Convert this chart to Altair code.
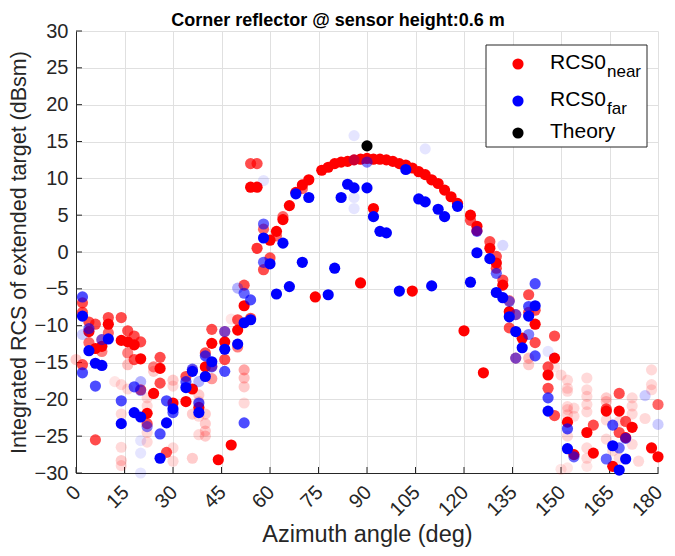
import altair as alt
import pandas as pd

# (azimuth deg, RCS dBsm, marker alpha)
near_points = [
    (0, -14.6, 0.2),
    (2, -6.9, 0.7), (2, -8.2, 0.7), (2, -15.3, 0.7),
    (4, -9.5, 0.7), (4, -10.8, 1), (4, -12.3, 0.6),
    (6, -9.8, 0.7), (6, -13.1, 1), (6, -25.5, 0.7),
    (8, -12.8, 1), (8, -13.5, 0.5), (8, -11.9, 0.4),
    (10, -8.9, 0.7), (10, -9.8, 1), (10, -11.0, 0.6),
    (12, -17.6, 0.1),
    (14, -8.9, 0.7), (14, -12.0, 1), (14, -18.0, 0.15), (14, -22.0, 0.15), (14, -26.5, 0.15), (14, -28.3, 0.2), (14, -29.0, 0.15),
    (16, -10.7, 0.7), (16, -12.2, 1), (16, -13.7, 0.5), (16, -15.3, 0.25), (16, -18.6, 0.15),
    (18, -11.4, 0.7), (18, -12.6, 1), (18, -14.6, 0.7),
    (20, -12.2, 0.7), (20, -14.5, 1), (20, -18.7, 0.7),
    (22, -21.9, 1), (22, -23.3, 0.7), (22, -19.8, 0.15), (22, -20.9, 0.15), (22, -24.5, 0.15), (22, -25.8, 0.15),
    (24, -19.2, 1), (24, -15.6, 0.5), (24, -16.2, 0.2),
    (26, -14.3, 0.7), (26, -15.8, 1), (26, -17.8, 0.7),
    (28, -27.2, 0.7),
    (30, -20.5, 1), (30, -17.4, 0.2), (30, -18.2, 0.15), (30, -26.6, 0.15), (30, -28.4, 0.15),
    (34, -20.3, 1), (34, -16.9, 0.7),
    (36, -18.6, 1), (36, -22.0, 0.2), (36, -28.0, 0.2), (36, -16.0, 0.3),
    (38, -21.1, 1), (38, -19.4, 0.2), (38, -20.3, 0.15), (38, -22.3, 0.15), (38, -24.8, 0.15),
    (40, -15.6, 1), (40, -13.7, 0.7), (40, -22.0, 0.2), (40, -23.3, 0.2), (40, -24.3, 0.2), (40, -25.0, 0.2),
    (42, -12.4, 1), (42, -10.5, 0.7), (42, -15.5, 0.6), (42, -17.2, 0.4),
    (44, -28.2, 1),
    (46, -10.8, 0.5), (46, -12.2, 1), (46, -14.6, 0.7),
    (48, -26.2, 1), (48, -9.1, 0.1),
    (50, -10.6, 1), (50, -9.2, 0.7), (50, -12.9, 0.5),
    (52, -4.5, 0.7), (52, -7.3, 1), (52, -16.0, 0.35), (52, -17.1, 0.25), (52, -18.3, 0.2), (52, -20.5, 0.15),
    (54, -9.0, 0.7), (54, 12.0, 0.7), (54, 8.8, 1),
    (56, 12.0, 0.7), (56, 8.8, 1), (56, 0.5, 0.8),
    (58, 3.1, 0.6), (58, -2.4, 0.7),
    (60, 1.6, 1), (60, -0.8, 0.7),
    (62, 2.8, 1), (62, 2.2, 0.6),
    (64, 4.4, 1), (64, 4.8, 0.6),
    (66, 6.3, 1),
    (68, 8.1, 1),
    (70, 9.1, 1), (70, 8.6, 0.6),
    (72, 9.8, 1),
    (74, -6.1, 1),
    (76, 11.1, 1),
    (78, 11.5, 1),
    (80, 12.0, 1),
    (82, 12.2, 1),
    (84, 12.3, 1),
    (86, 12.5, 1),
    (88, 12.6, 1), (88, -4.2, 1),
    (90, 12.7, 1),
    (92, 5.9, 1), (92, 12.6, 1),
    (94, 12.6, 1),
    (96, 12.5, 1),
    (98, 12.3, 1),
    (100, 12.0, 1),
    (102, 11.8, 1),
    (104, 11.4, 1), (104, -5.3, 1),
    (106, 10.9, 1),
    (108, 10.5, 1),
    (110, 9.8, 1),
    (112, 9.3, 1),
    (114, 8.4, 1),
    (116, 7.5, 1),
    (118, 6.6, 1),
    (120, -10.7, 1),
    (122, 5.0, 1), (122, 4.3, 0.7),
    (124, 3.5, 1), (124, 2.9, 1),
    (126, -16.4, 1),
    (128, 1.4, 0.7), (128, 0.5, 1),
    (130, -0.6, 0.7), (130, -1.5, 1), (130, -2.2, 0.7),
    (132, -3.8, 0.7), (132, -4.5, 1),
    (134, -6.6, 0.5), (134, -8.1, 1), (134, -10.3, 0.7),
    (136, -8.5, 0.5), (136, -14.4, 0.5),
    (138, -11.7, 1),
    (140, -5.8, 0.7), (140, -8.2, 0.7), (140, -14.4, 0.25), (140, -15.3, 0.2),
    (142, -7.9, 0.7), (142, -9.8, 1), (142, -12.3, 0.7),
    (146, -15.6, 0.7), (146, -16.7, 1), (146, -18.5, 0.7),
    (148, -11.4, 0.7), (148, -14.4, 1), (148, -22.2, 0.7), (148, -15.6, 0.1),
    (150, -16.7, 0.15), (150, -29.5, 0.1),
    (152, -23.1, 1), (152, -17.4, 0.15), (152, -18.5, 0.15), (152, -18.9, 0.15), (152, -21.0, 0.15),
    (152, -21.4, 0.15), (152, -22.1, 0.15), (152, -25.0, 0.15), (152, -29.3, 0.1),
    (154, -27.5, 1), (154, -21.2, 0.15), (154, -22.3, 0.15),
    (158, -24.5, 1), (158, -17.1, 0.15), (158, -18.7, 0.15), (158, -19.6, 0.15), (158, -20.7, 0.15),
    (158, -21.7, 0.15), (158, -26.6, 0.15), (158, -28.0, 0.15), (158, -29.1, 0.1),
    (160, -23.5, 0.7), (160, -27.3, 1),
    (164, -21.3, 0.7), (164, -21.6, 1), (164, -19.8, 0.2), (164, -20.3, 0.2), (164, -22.8, 0.15), (164, -25.4, 0.15),
    (166, -29.1, 1), (166, -27.0, 0.15),
    (168, -19.2, 0.7), (168, -21.6, 1), (168, -24.5, 0.7), (168, -23.0, 0.15), (168, -28.0, 0.15),
    (170, -23.0, 0.7), (170, -25.2, 1),
    (172, -23.8, 1), (172, -19.8, 0.15), (172, -20.9, 0.15), (172, -22.0, 0.15), (172, -26.1, 0.15),
    (174, -28.4, 0.15),
    (176, -22.6, 0.15),
    (178, -26.6, 1), (178, -16.0, 0.15), (178, -18.0, 0.15), (178, -18.7, 0.15),
    (180, -27.8, 1), (180, -20.7, 0.6),
]

far_points = [
    (2, -6.1, 0.7), (2, -8.7, 1), (2, -16.4, 0.7), (2, -11.2, 0.2),
    (4, -10.4, 0.6), (4, -13.4, 1),
    (6, -15.1, 1), (6, -18.2, 0.7),
    (8, -15.4, 1), (8, -11.9, 0.5),
    (10, -11.8, 1),
    (14, -20.2, 0.7), (14, -23.3, 1),
    (18, -18.3, 0.7), (18, -21.8, 1),
    (20, -22.4, 1), (20, -17.6, 0.3), (20, -18.8, 0.4), (20, -25.6, 0.1), (20, -27.3, 0.1), (20, -30.0, 0.1),
    (22, -23.7, 0.5),
    (26, -24.7, 0.7), (26, -28.0, 1),
    (28, -20.2, 0.7), (28, -23.2, 1),
    (30, -21.3, 1), (30, -21.8, 0.7),
    (34, -17.6, 0.7), (34, -18.4, 1),
    (36, -15.9, 0.6), (36, -16.2, 1),
    (38, -20.5, 0.7), (38, -21.8, 1), (38, -17.6, 0.3),
    (40, -14.1, 0.7), (40, -16.9, 1),
    (42, -14.9, 1), (42, -15.6, 0.6),
    (46, -10.8, 0.5), (46, -13.2, 1), (46, -16.2, 0.7),
    (50, -12.5, 1), (50, -4.9, 0.3),
    (52, -5.6, 0.6), (52, -9.6, 1), (52, -23.2, 0.7),
    (54, -6.5, 0.7), (54, -9.2, 1),
    (58, 3.8, 0.6), (58, 1.9, 1), (58, -1.4, 0.6), (58, 9.7, 0.1),
    (60, -1.6, 1),
    (62, -5.7, 1),
    (64, 1.2, 1),
    (66, -4.7, 1),
    (68, 7.9, 1),
    (70, -1.4, 1),
    (72, 7.4, 1),
    (78, -5.8, 1),
    (80, -2.2, 1),
    (82, 7.4, 1),
    (84, 9.2, 1),
    (86, 8.7, 1), (86, 15.8, 0.1), (86, 7.4, 0.1), (86, 5.9, 0.1), (86, 12.5, 0.2),
    (90, 8.7, 1), (90, 12.2, 0.5),
    (92, 4.8, 1),
    (94, 2.8, 1),
    (96, 2.6, 1),
    (100, -5.3, 1),
    (102, 11.2, 1),
    (106, 7.2, 1),
    (108, 6.8, 1), (108, 14.0, 0.1),
    (110, -4.6, 1),
    (112, 5.8, 1),
    (114, 4.8, 1),
    (118, 6.2, 1),
    (122, -4.1, 1),
    (124, -0.1, 1), (124, 2.8, 0.6),
    (128, -0.9, 1),
    (130, -2.9, 0.6), (130, -5.5, 1),
    (132, -6.2, 1), (132, 0.9, 0.15),
    (134, -6.7, 0.5), (134, -8.8, 1),
    (136, -10.8, 1), (136, -8.5, 0.5), (136, -14.4, 0.5),
    (138, -13.0, 1),
    (140, -7.4, 0.7), (140, -8.7, 1), (140, -11.2, 0.5),
    (142, -4.3, 0.7), (142, -7.3, 1), (142, -14.1, 0.7),
    (146, -19.8, 0.7), (146, -21.6, 1), (146, -13.5, 0.1),
    (152, -24.0, 0.7), (152, -26.7, 1),
    (154, -27.8, 0.6),
    (164, -28.1, 0.6),
    (166, -23.5, 0.7), (166, -26.3, 1),
    (168, -26.6, 0.6), (168, -29.6, 1),
    (170, -25.3, 0.6), (170, -28.1, 1),
    (176, -19.5, 0.2),
    (180, -23.4, 0.2),
]

theory_deg = [90]
theory_val = [14.4]

x_ticks = list(range(0, 181, 15))
y_ticks = list(range(-30, 31, 5))

legend_labels = ["RCS0", "RCS0", "Theory"]
legend_subs = ["near", "far", ""]
legend_colors = ["#ff0000", "#0000ff", "#000000"]

FONT = "Liberation Sans"
AX = "#262626"

near_df = pd.DataFrame(near_points, columns=["deg", "val", "alpha"])
far_df = pd.DataFrame(far_points, columns=["deg", "val", "alpha"])
theory_df = pd.DataFrame({"deg": theory_deg, "val": theory_val, "alpha": [1.0]})
xtick_df = pd.DataFrame({"deg": x_ticks})
ytick_df = pd.DataFrame({"val": y_ticks})
legend_df = pd.DataFrame({
    "row": [0, 1, 2],
    "label": legend_labels,
    "sub": legend_subs,
    "color": legend_colors,
})

xs = alt.Scale(domain=[0, 180], nice=False, zero=False)
ys = alt.Scale(domain=[-30, 30], nice=False, zero=False)

x_axis = alt.Axis(values=x_ticks, title="Azimuth angle (deg)", labelAngle=315,
                  labelAlign="right", labelBaseline="middle", labelOffset=1,
                  labelPadding=16, titlePadding=3, titleFontSize=23.5)
y_axis = alt.Axis(values=y_ticks, title="Integrated RCS of extended target (dBsm)",
                  labelPadding=8, titlePadding=4, titleFontSize=21.5)
x_enc = alt.X("deg:Q", scale=xs, axis=x_axis)
y_enc = alt.Y("val:Q", scale=ys, axis=y_axis)


def pts(df, color):
    return alt.Chart(df).mark_circle(size=125, color=color).encode(
        x=x_enc, y=y_enc,
        opacity=alt.Opacity("alpha:Q", scale=None, legend=None),
    )


# inward tick marks (MATLAB style)
ytick_marks = alt.Chart(ytick_df).mark_rule(color=AX, strokeWidth=1).encode(
    y=y_enc, x=alt.value(0), x2=alt.value(6)
)
xtick_marks = alt.Chart(xtick_df).mark_rule(color=AX, strokeWidth=1).encode(
    x=x_enc, y=alt.value(442), y2=alt.value(436)
)

main = alt.layer(
    ytick_marks,
    xtick_marks,
    pts(near_df, "#ff0000"),
    pts(far_df, "#0000ff"),
    pts(theory_df, "#000000"),
)

ly = alt.Y("row:Q", scale=alt.Scale(domain=[0, 1, 2], range=[33, 70, 102]), axis=None)

box = alt.Chart(pd.DataFrame({"k": [0]})).mark_rect(
    fill="white", stroke=AX, strokeWidth=1
).encode(x=alt.value(410), x2=alt.value(571), y=alt.value(14), y2=alt.value(116))

leg_marks = alt.Chart(legend_df).mark_circle(size=125, opacity=1).encode(
    x=alt.value(442), y=ly,
    color=alt.Color("color:N", scale=None, legend=None),
)
leg_text = alt.Chart(legend_df).mark_text(
    align="left", baseline="middle", fontSize=21, font=FONT, color="#000000", dy=-1
).encode(x=alt.value(474), y=ly, text="label:N")
leg_sub = alt.Chart(legend_df).mark_text(
    align="left", baseline="alphabetic", fontSize=17, font=FONT, color="#000000", dy=13
).encode(x=alt.value(531), y=ly, text="sub:N")

legend = alt.layer(box, leg_marks, leg_text, leg_sub)

chart = alt.layer(main, legend).resolve_scale(
    x="independent", y="independent", color="independent"
).properties(
    width=582, height=442,
    autosize=alt.AutoSizeParams(type="none"),
    padding={"left": 68, "top": 23, "right": 9, "bottom": 75},
    title=alt.TitleParams(
        text="Corner reflector @ sensor height:0.6 m", fontSize=18, font=FONT,
        fontWeight="bold", color="#000000", anchor="middle", dx=-29, dy=15, offset=6,
    ),
).configure_view(strokeWidth=0).configure_axis(
    labelFont=FONT, titleFont=FONT, labelFontSize=20, labelColor=AX,
    titleColor=AX, titleFontWeight="normal", domainColor=AX,
    domainWidth=1, ticks=False, gridColor="#e0e0e0", gridWidth=1,
)

chart.save("out.html", embed_options={"renderer": "svg", "actions": False})
